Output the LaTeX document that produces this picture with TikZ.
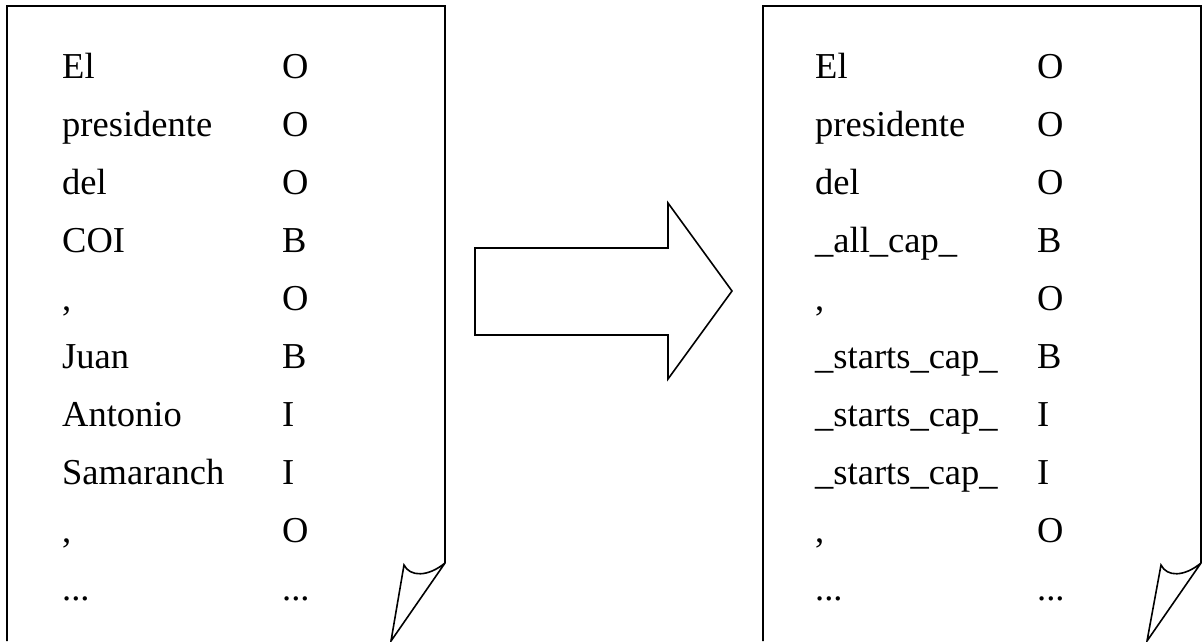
\documentclass[tikz,border=0pt]{standalone}
\usepackage{fontspec}
\setmainfont{Liberation Serif}
\newcommand\mytdots{.{}.{}.}
\begin{document}
\begin{tikzpicture}[x=1pt,y=-1pt,
  pageline/.style={line width=1.6pt,line join=miter},
  cell/.style={anchor=base west,inner sep=0pt,font=\fontsize{36.5}{42}\selectfont}]
\useasboundingbox (0,0) rectangle (1204,641);
% left page
\draw[pageline] (7,641) -- (7,6) -- (445,6) -- (445,563)
  .. controls (428,577) and (410,577) .. (404,565) -- (391,641) -- (445,563);
% right page
\draw[pageline] (763,641) -- (763,6) -- (1201,6) -- (1201,563)
  .. controls (1184,577) and (1167,577) .. (1161,565) -- (1147,641) -- (1201,563);
% arrow
\draw[pageline] (475,248) -- (668,248) -- (668,203) -- (732,291) -- (668,379) -- (668,335) -- (475,335) -- cycle;
% left table
\foreach \w/\t [count=\i] in {El/O,presidente/O,del/O,COI/B,{,}/O,Juan/B,Antonio/I,Samaranch/I,{,}/O,\mytdots/\mytdots}{
  \node[cell] (lw\i) at (62,{78+58*(\i-1)}) {\w};
  \node[cell] (lt\i) at (282,{78+58*(\i-1)}) {\t};
}
% right table
\foreach \w/\t [count=\i] in {El/O,presidente/O,del/O,\_all\_cap\_/B,{,}/O,\_starts\_cap\_/B,\_starts\_cap\_/I,\_starts\_cap\_/I,{,}/O,\mytdots/\mytdots}{
  \node[cell] (rw\i) at (815,{78+58*(\i-1)}) {\w};
  \node[cell] (rt\i) at (1037,{78+58*(\i-1)}) {\t};
}
\end{tikzpicture}
\end{document}
